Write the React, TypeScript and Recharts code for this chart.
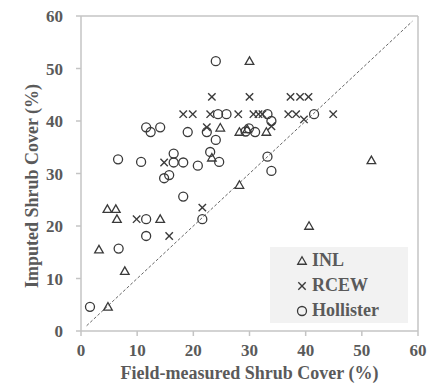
import React from 'react';
import { Label, Legend, ReferenceLine, Scatter, ScatterChart, XAxis, YAxis } from 'recharts';

type Pt = { x: number; y: number };

// field-measured (x) vs imputed (y) shrub cover, %
const INL: Pt[] = [
  { x: 30.0, y: 51.4 }, { x: 24.8, y: 38.7 }, { x: 28.2, y: 37.9 }, { x: 29.6, y: 38.4 },
  { x: 33.0, y: 37.9 }, { x: 23.3, y: 33.0 }, { x: 28.2, y: 27.8 }, { x: 51.7, y: 32.5 },
  { x: 40.6, y: 20.0 }, { x: 4.7, y: 23.2 }, { x: 6.2, y: 23.2 }, { x: 6.4, y: 21.3 },
  { x: 14.1, y: 21.3 }, { x: 3.2, y: 15.5 }, { x: 7.8, y: 11.4 }, { x: 4.8, y: 4.6 },
];

const RCEW: Pt[] = [
  { x: 23.3, y: 44.6 }, { x: 30.0, y: 44.6 }, { x: 37.3, y: 44.6 }, { x: 39.0, y: 44.6 },
  { x: 40.5, y: 44.6 }, { x: 18.2, y: 41.3 }, { x: 19.9, y: 41.3 }, { x: 23.0, y: 41.3 },
  { x: 28.0, y: 41.3 }, { x: 30.7, y: 41.3 }, { x: 31.6, y: 41.3 }, { x: 32.3, y: 41.3 },
  { x: 36.9, y: 41.3 }, { x: 38.3, y: 41.3 }, { x: 39.7, y: 40.3 }, { x: 44.9, y: 41.3 },
  { x: 22.4, y: 38.8 }, { x: 33.9, y: 39.0 }, { x: 14.8, y: 32.1 }, { x: 21.6, y: 23.5 },
  { x: 9.9, y: 21.3 }, { x: 15.7, y: 18.1 },
];

const HOLLISTER: Pt[] = [
  { x: 24.0, y: 51.4 }, { x: 24.4, y: 41.3 }, { x: 25.9, y: 41.3 }, { x: 33.2, y: 41.3 },
  { x: 41.5, y: 41.3 }, { x: 11.6, y: 38.8 }, { x: 12.4, y: 37.9 }, { x: 14.1, y: 38.8 },
  { x: 19.0, y: 37.9 }, { x: 22.4, y: 37.9 }, { x: 24.0, y: 36.4 }, { x: 29.3, y: 38.0 },
  { x: 29.9, y: 38.6 }, { x: 31.0, y: 37.9 }, { x: 33.9, y: 40.0 }, { x: 6.6, y: 32.7 },
  { x: 10.7, y: 32.2 }, { x: 16.5, y: 33.8 }, { x: 16.5, y: 32.1 }, { x: 18.2, y: 32.1 },
  { x: 20.8, y: 31.5 }, { x: 23.0, y: 34.1 }, { x: 24.6, y: 32.2 }, { x: 14.8, y: 29.1 },
  { x: 15.7, y: 29.7 }, { x: 33.2, y: 33.2 }, { x: 33.9, y: 30.5 }, { x: 18.2, y: 25.6 },
  { x: 11.6, y: 21.3 }, { x: 21.6, y: 21.3 }, { x: 11.6, y: 18.1 }, { x: 6.7, y: 15.7 },
  { x: 1.6, y: 4.6 },
];

const TICKS = [0, 10, 20, 30, 40, 50, 60];
const ONE_TO_ONE: [Pt, Pt] = [{ x: 1, y: 1 }, { x: 59, y: 59 }];

const INK = '#3a3a3a';
const TEXT = '#5a5a5a';
const AXIS = '#c4c4c4';
const FONT = '"Liberation Serif", "Times New Roman", serif';

function Marker({ kind, cx, cy }: { kind: string; cx: number; cy: number }) {
  if (kind === 'triangle') {
    const h = 4.3;
    return (
      <polygon
        points={`${cx},${cy - h} ${cx - h},${cy + h * 0.75} ${cx + h},${cy + h * 0.75}`}
        fill="none"
        stroke={INK}
        strokeWidth={1.3}
      />
    );
  }
  if (kind === 'x') {
    const d = 3.7;
    return (
      <g stroke={INK} strokeWidth={1.4}>
        <line x1={cx - d} y1={cy - d} x2={cx + d} y2={cy + d} />
        <line x1={cx - d} y1={cy + d} x2={cx + d} y2={cy - d} />
      </g>
    );
  }
  return <circle cx={cx} cy={cy} r={4.5} fill="none" stroke={INK} strokeWidth={1.3} />;
}

const SERIES = [
  { name: 'INL', data: INL, kind: 'triangle' },
  { name: 'RCEW', data: RCEW, kind: 'x' },
  { name: 'Hollister', data: HOLLISTER, kind: 'circle' },
];

function LegendBox() {
  return (
    <div
      style={{
        background: '#f2f2f2',
        width: 138,
        height: 76,
        boxSizing: 'border-box',
        paddingTop: 1,
        paddingLeft: 25,
      }}
    >
      {SERIES.map((s) => (
        <div key={s.name} style={{ display: 'flex', alignItems: 'center', height: 25 }}>
          <svg width={14} height={14} style={{ marginRight: 3 }}>
            <Marker kind={s.kind} cx={7} cy={7} />
          </svg>
          <span style={{ fontFamily: FONT, fontWeight: 'bold', fontSize: 18, color: TEXT }}>{s.name}</span>
        </div>
      ))}
    </div>
  );
}

const titleStyle = { fill: TEXT, fontFamily: FONT, fontWeight: 'bold', fontSize: 18 };

export default function App() {
  const tick = { fill: TEXT, fontFamily: FONT, fontWeight: 'bold', fontSize: 17 };
  return (
    <div style={{ position: 'absolute', left: 0, top: 0, width: 427, height: 390, background: '#fff' }}>
      <ScatterChart width={427} height={390} margin={{ top: 16, right: 9, bottom: 0, left: 0 }}>
        <XAxis
          type="number"
          dataKey="x"
          domain={[0, 60]}
          ticks={TICKS}
          height={59}
          stroke={AXIS}
          strokeWidth={1.5}
          tickSize={5}
          tickMargin={8}
          tick={tick}
        >
          <Label
            value="Field-measured Shrub Cover (%)"
            position="center"
            dy={12}
            style={{ ...titleStyle, textAnchor: 'middle' }}
          />
        </XAxis>
        <YAxis
          type="number"
          dataKey="y"
          domain={[0, 60]}
          ticks={TICKS}
          width={81}
          stroke={AXIS}
          strokeWidth={1.5}
          tickSize={5}
          tickMargin={13}
          tick={tick}
        />
        <ReferenceLine y={60} stroke={AXIS} strokeWidth={1.5} />
        <ReferenceLine x={60} stroke={AXIS} strokeWidth={1.5} />
        <ReferenceLine segment={ONE_TO_ONE} stroke="#666" strokeDasharray="3 2" strokeWidth={1} />
        {SERIES.map((s) => (
          <Scatter
            key={s.name}
            name={s.name}
            data={s.data}
            isAnimationActive={false}
            shape={(p: any) => <Marker kind={s.kind} cx={p.cx} cy={p.cy} />}
          />
        ))}
        <Legend
          layout="vertical"
          align="center"
          verticalAlign="middle"
          wrapperStyle={{ position: 'absolute', left: 270, top: 247, width: 138, height: 76 }}
          content={() => <LegendBox />}
        />
      </ScatterChart>
      {/* y-axis title, one line, rotated */}
      <div
        style={{
          position: 'absolute',
          left: 32,
          top: 186,
          width: 300,
          marginLeft: -150,
          marginTop: -11,
          lineHeight: '22px',
          textAlign: 'center',
          whiteSpace: 'nowrap',
          transform: 'rotate(-90deg)',
          fontFamily: FONT,
          fontWeight: 'bold',
          fontSize: 18,
          color: TEXT,
        }}
      >
        Imputed Shrub Cover (%)
      </div>
    </div>
  );
}
